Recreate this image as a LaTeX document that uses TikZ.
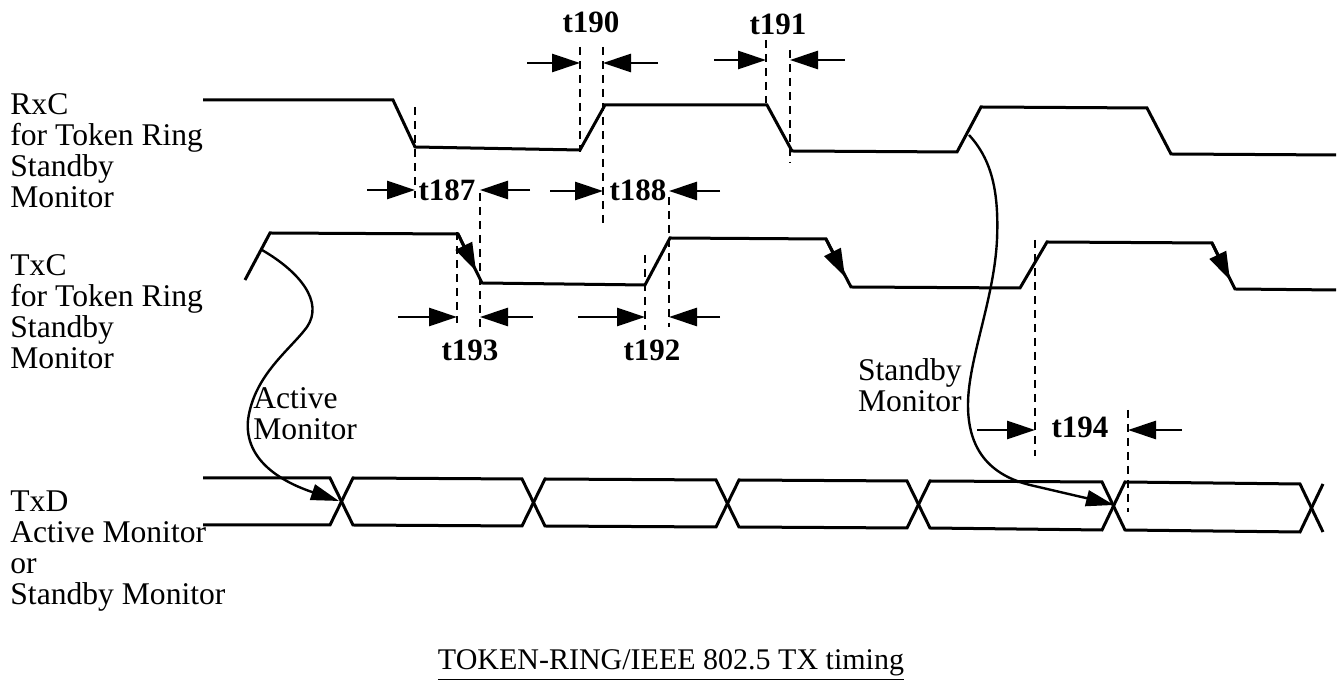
\documentclass[tikz,border=0pt]{standalone}
\usepackage{fontspec}
\setmainfont{Liberation Serif}
\usetikzlibrary{arrows.meta}
\begin{document}
\begin{tikzpicture}[x=0.5pt,y=-0.5pt,
  sig/.style={line width=1.5pt, line join=miter},
  dsh/.style={line width=1.3pt, dash pattern=on 4pt off 3pt},
  dimarrow/.style={line width=1.4pt, -{Triangle[length=14pt,width=9pt]}},
  curvearrow/.style={line width=1.2pt, -{Triangle[length=14pt,width=8pt]}},
  lbl/.style={font=\fontsize{15.8}{15.5}\selectfont, align=left, inner sep=0pt, anchor=north west},
  tlbl/.style={font=\fontsize{15.5}{15.5}\selectfont\bfseries, inner sep=0pt},
  edgearrow/.style={line width=1.5pt, -{Triangle[length=14pt,width=9pt]}}
]
\useasboundingbox (0,0) rectangle (1340,688);
\fill[white] (0,0) rectangle (1340,688);

% left labels
\node[lbl] (rxclbl) at (10,93) {RxC\\for Token Ring\\Standby\\Monitor};
\node[lbl] (txclbl) at (10,254) {TxC\\for Token Ring\\Standby\\Monitor};
\node[lbl] (txdlbl) at (10,490) {TxD\\Active Monitor\\or\\Standby Monitor};

% RxC signal
\draw[sig] (203,100) -- (393,100) -- (415,147) -- (580,150) -- (605,105) -- (767,105)
  -- (792,151) -- (957,152) -- (981,107) -- (1147,108) -- (1171,154) -- (1336,155);

% TxC signal
\draw[sig] (245,280) -- (270,233) -- (458,234) -- (482,283) -- (645,285) -- (670,238)
  -- (826,239) -- (851,287) -- (1020,288) -- (1047,242) -- (1212,243) -- (1235,289) -- (1336,290);
% edge arrowheads on TxC falling edges
\coordinate (ea1s) at (458,234); \coordinate (ea1e) at (476,271);
\coordinate (ea2s) at (826,239); \coordinate (ea2e) at (845,277);
\coordinate (ea3s) at (1212,243); \coordinate (ea3e) at (1230,280);
\draw[edgearrow] (ea1s) -- (ea1e);
\draw[edgearrow] (ea2s) -- (ea2e);
\draw[edgearrow] (ea3s) -- (ea3e);

% TxD bus
\draw[sig] (203,478) -- (330,478) -- (353,525) -- (522,526) -- (545,479) -- (716,480) -- (739,527)
  -- (907,528) -- (930,481) -- (1102,482) -- (1125,530) -- (1300,532) -- (1323,484);
\draw[sig] (203,525) -- (330,525) -- (353,478) -- (522,479) -- (545,526) -- (716,527) -- (739,480)
  -- (907,481) -- (930,528) -- (1102,530) -- (1125,482) -- (1300,484) -- (1323,532);

% timing labels
\node[tlbl] (t190) at (591,22) {t190};
\node[tlbl] (t191) at (778,24) {t191};
\node[tlbl] (t187) at (447,190) {t187};
\node[tlbl] (t188) at (638,190) {t188};
\node[tlbl] (t193) at (470,350) {t193};
\node[tlbl] (t192) at (652,350) {t192};
\node[tlbl] (t194) at (1080,427) {t194};

% dashed reference lines
\coordinate (d1a) at (415,107); \coordinate (d1b) at (415,198);
\draw[dsh] (d1a) -- (d1b);
\coordinate (d2a) at (580,47); \coordinate (d2b) at (580,152);
\draw[dsh] (d2a) -- (d2b);
\coordinate (d3a) at (603,47); \coordinate (d3b) at (603,225);
\draw[dsh] (d3a) -- (d3b);
\coordinate (d4a) at (766,40); \coordinate (d4b) at (766,103);
\draw[dsh] (d4a) -- (d4b);
\coordinate (d5a) at (790,50); \coordinate (d5b) at (790,163);
\draw[dsh] (d5a) -- (d5b);
\coordinate (d6a) at (480,193); \coordinate (d6b) at (480,330);
\draw[dsh] (d6a) -- (d6b);
\coordinate (d7a) at (669,197); \coordinate (d7b) at (669,327);
\draw[dsh] (d7a) -- (d7b);
\coordinate (d8a) at (457,232); \coordinate (d8b) at (457,323);
\draw[dsh] (d8a) -- (d8b);
\coordinate (d9a) at (645,255); \coordinate (d9b) at (645,330);
\draw[dsh] (d9a) -- (d9b);
\coordinate (d10a) at (1035,240); \coordinate (d10b) at (1035,456);
\draw[dsh] (d10a) -- (d10b);
\coordinate (d11a) at (1128,410); \coordinate (d11b) at (1128,512);
\draw[dsh] (d11a) -- (d11b);

% dimension arrows
\coordinate (a190l) at (527,63); \coordinate (a190r) at (580,63);
\coordinate (b190l) at (658,63); \coordinate (b190r) at (603,63);
\draw[dimarrow] (a190l) -- (a190r);
\draw[dimarrow] (b190l) -- (b190r);
\coordinate (a191l) at (714,60); \coordinate (a191r) at (766,60);
\coordinate (b191l) at (845,60); \coordinate (b191r) at (790,60);
\draw[dimarrow] (a191l) -- (a191r);
\draw[dimarrow] (b191l) -- (b191r);
\coordinate (a187l) at (367,190); \coordinate (a187r) at (415,190);
\coordinate (b187l) at (530,190); \coordinate (b187r) at (480,190);
\draw[dimarrow] (a187l) -- (a187r);
\draw[dimarrow] (b187l) -- (b187r);
\coordinate (a188l) at (550,191); \coordinate (a188r) at (603,191);
\coordinate (b188l) at (720,191); \coordinate (b188r) at (669,191);
\draw[dimarrow] (a188l) -- (a188r);
\draw[dimarrow] (b188l) -- (b188r);
\coordinate (a193l) at (398,317); \coordinate (a193r) at (457,317);
\coordinate (b193l) at (533,317); \coordinate (b193r) at (480,317);
\draw[dimarrow] (a193l) -- (a193r);
\draw[dimarrow] (b193l) -- (b193r);
\coordinate (a192l) at (578,317); \coordinate (a192r) at (645,317);
\coordinate (b192l) at (720,317); \coordinate (b192r) at (669,317);
\draw[dimarrow] (a192l) -- (a192r);
\draw[dimarrow] (b192l) -- (b192r);
\coordinate (a194l) at (977,430); \coordinate (a194r) at (1035,430);
\coordinate (b194l) at (1182,430); \coordinate (b194r) at (1128,430);
\draw[dimarrow] (a194l) -- (a194r);
\draw[dimarrow] (b194l) -- (b194r);

% Active Monitor causal arrow
\node[lbl] (actlbl) at (253,387) {Active\\Monitor};
\coordinate (amstart) at (262,250);
\coordinate (amend) at (339,501);
\draw[curvearrow] (amstart) .. controls (300,272) and (324,302) .. (307,327)
  .. controls (290,350) and (254,375) .. (248,420)
  .. controls (244,462) and (285,483) .. (amend);

% Standby Monitor causal arrow
\node[lbl, anchor=north east] (sbylbl) at (962,358) {Standby\\Monitor};
\coordinate (smstart) at (969,135);
\coordinate (smend) at (1114,505);
\draw[curvearrow] (smstart) .. controls (992,160) and (999,192) .. (997,240)
  .. controls (994,300) and (968,360) .. (968,405)
  .. controls (968,450) and (990,475) .. (1030,485)
  .. controls (1060,492) and (1090,499) .. (smend);

% title
\node[inner sep=0pt, font=\fontsize{15}{15}\selectfont] (title) at (671,665) {\underline{TOKEN-RING/IEEE 802.5 TX timing}};
\end{tikzpicture}
\end{document}
